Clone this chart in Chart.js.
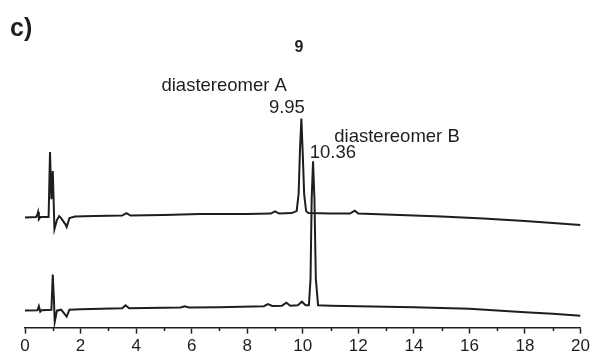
<!DOCTYPE html>
<html>
<head>
<meta charset="utf-8">
<script src="https://cdn.jsdelivr.net/npm/chart.js@4/dist/chart.umd.min.js"></script>
<style>
  html, body { margin: 0; padding: 0; background: #fff; }
  #wrap { position: relative; width: 593px; height: 360px; }
</style>
</head>
<body>
<div id="wrap"><canvas id="hplc"></canvas></div>
<script>
// Retention times (min) and detector response
const timesTop = [0, 0.4, 0.45, 0.47, 0.5, 0.55, 0.85, 0.9, 0.95, 1.0, 1.06, 1.15, 1.23, 1.3, 1.45, 1.5, 1.6, 1.8,
    2.5, 3.5, 3.65, 3.8, 5, 6.3, 8, 8.85, 9.0, 9.15, 9.6, 9.78, 9.85, 9.9, 9.95, 10.0, 10.05, 10.12, 10.2,
    11.0, 11.7, 11.87, 12.0, 13.5, 15, 16.5, 18, 19, 20];
const signalTop = [110.7, 111, 114, 116, 109, 111, 111, 176.3, 129, 157.3, 99, 108, 112, 110, 104, 101, 110, 111.5,
    112, 112.5, 115, 112.5, 113, 114, 114, 114.5, 116.7, 114.5, 115, 117, 134, 179, 210, 174, 134, 117, 115,
    114.5, 114.5, 117.5, 114.5, 113, 111.5, 109.5, 107, 105, 103];

const timesBottom = [0, 0.45, 0.5, 0.55, 0.6, 0.95, 1.0, 1.04, 1.07, 1.15, 1.3, 1.5, 1.6, 2, 3.5, 3.62, 3.75,
    5.6, 5.75, 5.9, 7, 8.6, 8.75, 8.9, 9.25, 9.41, 9.55, 9.82, 9.97, 10.1, 10.22, 10.28, 10.32, 10.37,
    10.42, 10.47, 10.55, 11, 13, 14, 16, 18, 19, 20];
const signalBottom = [17.3, 17.5, 21.5, 16, 17.5, 18, 53.3, 29, 5.7, 17, 18, 11, 18, 18.5, 19.5, 22.5, 19.5,
    20.2, 21.5, 20.2, 20.5, 21.5, 23.5, 21.7, 22, 25, 22, 22.5, 26, 22.5, 22.5, 49, 129, 167,
    129, 49, 22.5, 22, 21, 20.5, 19, 15.5, 14, 12];

const peakTimes = [9.95, 10.36];
const peakLabels = ['9.95', '10.36'];
const peakNames = ['diastereomer A', 'diastereomer B'];

const xTicksMajor = [0, 2, 4, 6, 8, 10, 12, 14, 16, 18, 20];
const xTicksMinor = [1, 3, 5, 7, 9, 11, 13, 15, 17, 19];

const ink = '#1e1e1e';
Chart.defaults.font.family = '"Liberation Sans", Arial, Helvetica, sans-serif';
Chart.defaults.color = ink;

function toPoints(xs, ys) {
    return xs.map((x, i) => ({ x: x, y: ys[i] }));
}

// minor ticks + peak annotations
const decorations = {
    id: 'decorations',
    afterDraw(chart) {
        const ctx = chart.ctx;
        const xs = chart.scales.x;
        const ys = chart.scales.y;
        ctx.save();
        ctx.strokeStyle = ink;
        ctx.lineWidth = 1.5;
        xTicksMinor.forEach(v => {
            const px = Math.round(xs.getPixelForValue(v)) + 0.5;
            ctx.beginPath();
            ctx.moveTo(px, xs.top);
            ctx.lineTo(px, xs.top + 3.5);
            ctx.stroke();
        });

        ctx.fillStyle = ink;
        ctx.textBaseline = 'alphabetic';

        // panel letter and compound number
        ctx.font = 'bold 25px "Liberation Sans", Arial, sans-serif';
        ctx.textAlign = 'left';
        ctx.fillText('c)', 10, 36);
        ctx.font = 'bold 16px "Liberation Sans", Arial, sans-serif';
        ctx.textAlign = 'center';
        ctx.fillText('9', 299, 51.5);

        ctx.font = '18.5px "Liberation Sans", Arial, sans-serif';
        const ax = xs.getPixelForValue(peakTimes[0]);
        const ay = ys.getPixelForValue(210);
        ctx.textAlign = 'right';
        ctx.fillText(peakLabels[0], ax + 3.5, ay - 5.5);
        ctx.fillText(peakNames[0], ax - 14.5, ay - 27.5);

        const bx = xs.getPixelForValue(peakTimes[1]);
        const by = ys.getPixelForValue(167);
        ctx.textAlign = 'left';
        ctx.fillText(peakLabels[1], bx - 3, by - 3.5);
        ctx.fillText(peakNames[1], bx + 21.5, by - 19.5);
        ctx.restore();
    }
};

new Chart(document.getElementById('hplc'), {
    type: 'line',
    data: {
        datasets: [
            {
                label: 'upper trace',
                data: toPoints(timesTop, signalTop),
                borderColor: ink,
                borderWidth: 2,
                pointRadius: 0,
                tension: 0
            },
            {
                label: 'lower trace',
                data: toPoints(timesBottom, signalBottom),
                borderColor: ink,
                borderWidth: 2,
                pointRadius: 0,
                tension: 0
            }
        ]
    },
    options: {
        responsive: true,
        maintainAspectRatio: false,
        animation: false,
        layout: { padding: { left: 25, right: 12, top: 60, bottom: 0 } },
        plugins: { legend: { display: false }, tooltip: { enabled: false } },
        scales: {
            x: {
                type: 'linear',
                min: 0,
                max: 20,
                afterBuildTicks: axis => { axis.ticks = xTicksMajor.map(v => ({ value: v })); },
                grid: { drawOnChartArea: false, drawTicks: true, tickLength: 6, tickWidth: 1.5, tickColor: ink },
                border: { display: true, color: ink, width: 1.5 },
                ticks: { padding: 3, font: { size: 17 }, color: ink, maxRotation: 0, autoSkip: false }
            },
            y: {
                type: 'linear',
                display: false,
                min: 0,
                max: 268.8
            }
        }
    },
    plugins: [decorations]
});
</script>
</body>
</html>
